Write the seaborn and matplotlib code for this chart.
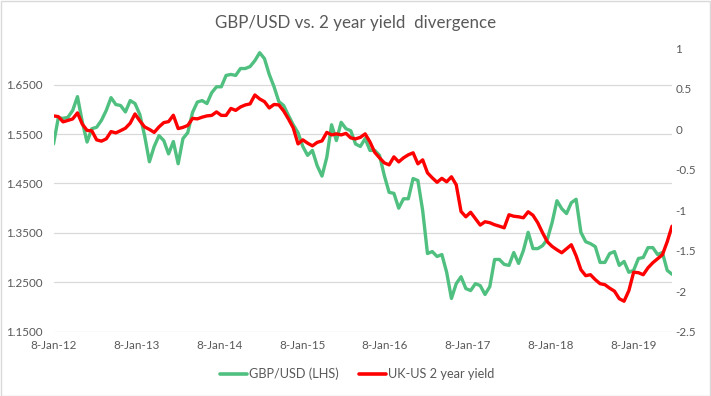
import matplotlib
matplotlib.use('Agg')
import matplotlib.pyplot as plt
import numpy as np
import pandas as pd
import seaborn as sns
from matplotlib.lines import Line2D
from matplotlib.patches import Rectangle


# GBP/USD, every ~3 weeks (left axis)
gbp_usd = [
    1.530, 1.583, 1.582, 1.584, 1.598, 1.626, 1.575, 1.534, 1.561, 1.564,
    1.578, 1.598, 1.624, 1.610, 1.608, 1.595, 1.618, 1.612, 1.590, 1.547,
    1.494, 1.525, 1.547, 1.537, 1.510, 1.535, 1.490, 1.541, 1.553, 1.594,
    1.615, 1.618, 1.612, 1.634, 1.646, 1.646, 1.669, 1.671, 1.669, 1.683,
    1.683, 1.687, 1.699, 1.715, 1.703, 1.671, 1.646, 1.616, 1.608, 1.588,
    1.569, 1.553, 1.525, 1.507, 1.517, 1.486, 1.465, 1.503, 1.569, 1.537,
    1.574, 1.561, 1.557, 1.530, 1.525, 1.541, 1.517, 1.517, 1.507, 1.466,
    1.432, 1.430, 1.400, 1.419, 1.419, 1.460, 1.456, 1.395, 1.308, 1.312,
    1.302, 1.306, 1.270, 1.217, 1.247, 1.261, 1.237, 1.233, 1.247, 1.243,
    1.225, 1.241, 1.296, 1.296, 1.286, 1.284, 1.310, 1.288, 1.314, 1.351,
    1.318, 1.318, 1.324, 1.337, 1.371, 1.415, 1.399, 1.389, 1.411, 1.418,
    1.351, 1.332, 1.328, 1.322, 1.290, 1.290, 1.308, 1.312, 1.284, 1.292,
    1.270, 1.274, 1.298, 1.300, 1.320, 1.320, 1.306, 1.310, 1.274, 1.266,
]

# UK-US 2 year yield spread (right axis)
uk_us_spread = [
    0.162, 0.153, 0.088, 0.106, 0.124, 0.199, 0.060, -0.017, -0.023, -0.134,
    -0.150, -0.122, -0.032, -0.048, -0.020, 0.010, 0.072, 0.186, 0.100, 0.026,
    -0.005, -0.042, 0.026, 0.079, 0.091, 0.170, 0.005, 0.020, 0.044, 0.131,
    0.125, 0.146, 0.162, 0.168, 0.211, 0.168, 0.168, 0.254, 0.230, 0.272,
    0.297, 0.310, 0.420, 0.371, 0.338, 0.260, 0.303, 0.297, 0.223, 0.124,
    0.014, -0.184, -0.134, -0.175, -0.208, -0.165, -0.147, -0.042, -0.073, -0.060,
    -0.073, -0.054, -0.110, -0.122, -0.103, -0.060, -0.159, -0.288, -0.356, -0.418,
    -0.443, -0.344, -0.406, -0.356, -0.319, -0.294, -0.430, -0.381, -0.541, -0.603,
    -0.658, -0.609, -0.652, -0.590, -0.689, -1.018, -1.084, -1.028, -1.108, -1.186,
    -1.145, -1.157, -1.182, -1.200, -1.220, -1.059, -1.077, -1.084, -1.096, -1.022,
    -1.065, -1.157, -1.281, -1.392, -1.450, -1.491, -1.528, -1.479, -1.429, -1.565,
    -1.737, -1.811, -1.799, -1.860, -1.910, -1.922, -1.965, -2.002, -2.095, -2.126,
    -1.996, -1.768, -1.774, -1.799, -1.713, -1.651, -1.602, -1.552, -1.392, -1.200,
]

start_date = '2012-01-08'
end_date = '2019-06-26'

x_tick_labels = ['8-Jan-12', '8-Jan-13', '8-Jan-14', '8-Jan-15',
                 '8-Jan-16', '8-Jan-17', '8-Jan-18', '8-Jan-19']
left_ticks = [1.15, 1.25, 1.35, 1.45, 1.55, 1.65]
right_ticks = [-2.5, -2, -1.5, -1, -0.5, 0, 0.5, 1]

title = 'GBP/USD vs. 2 year yield  divergence'
label_gbp = 'GBP/USD (LHS)'
label_spread = 'UK-US 2 year yield'

GREEN = '#4fc07f'
RED = '#ff0000'
GREY_TXT = '#595959'
GRID = '#d9d9d9'

dates = pd.date_range(start_date, end_date, periods=len(gbp_usd))
df = pd.DataFrame({'date': dates, 'gbp': gbp_usd, 'spread': uk_us_spread})

sns.set_theme(style='white')
plt.rcParams['font.family'] = ['Lato', 'DejaVu Sans']

W, H = 711, 396
fig = plt.figure(figsize=(W / 100, H / 100), dpi=100)
fig.patch.set_facecolor('white')

# plot area in pixels: x 53.5..672, y 48..331.5
ax = fig.add_axes([53.5 / W, 1 - 331.5 / H, (672 - 53.5) / W, (331.5 - 48) / H])
sns.lineplot(data=df, x='date', y='gbp', ax=ax, color=GREEN, linewidth=2.4)

ax2 = ax.twinx()
sns.lineplot(data=df, x='date', y='spread', ax=ax2, color=RED, linewidth=2.4)

ax.set_xlim(dates[0], dates[-1])
ax.set_ylim(1.15, 1.15 + 283.5 / 493.4)
ax2.set_ylim(-2.5, 1)

tick_dates = pd.to_datetime(x_tick_labels, format='%d-%b-%y')
ax.set_xticks(tick_dates)
ax.set_xticklabels(x_tick_labels)
ax.set_yticks(left_ticks)
ax.set_yticklabels([f'{v:.4f}' for v in left_ticks])
ax2.set_yticks(right_ticks)
ax2.set_yticklabels([f'{v:g}' for v in right_ticks])

for a in (ax, ax2):
    a.set_xlabel('')
    a.set_ylabel('')
    for s in a.spines.values():
        s.set_visible(False)
    a.tick_params(length=0, labelsize=8.4, labelcolor=GREY_TXT)
ax.tick_params(axis='y', pad=8)
ax.tick_params(axis='x', pad=6)
ax2.tick_params(axis='y', pad=2.5)

ax.yaxis.grid(True, color=GRID, linewidth=0.9)
ax.xaxis.grid(False)
ax2.grid(False)
ax.set_axisbelow(True)

fig.text(0.5, 1 - 22.7 / H, title, ha='center', va='center',
         fontsize=12.2, color=GREY_TXT)

handles = [Line2D([], [], color=GREEN, linewidth=2.6),
           Line2D([], [], color=RED, linewidth=2.6)]
fig.legend(handles, [label_gbp, label_spread], loc='center',
           bbox_to_anchor=(357 / W, 1 - 374 / H), ncol=2, frameon=False,
           fontsize=9.2, labelcolor=GREY_TXT, handlelength=2.1,
           handletextpad=0.15, columnspacing=1.6)

fig.patches.append(Rectangle((0.5 / W, 0.5 / H), 1 - 1.5 / W, 1 - 1.5 / H,
                             transform=fig.transFigure, fill=False,
                             edgecolor=GRID, linewidth=1))

fig.savefig('out.png', dpi=100)
